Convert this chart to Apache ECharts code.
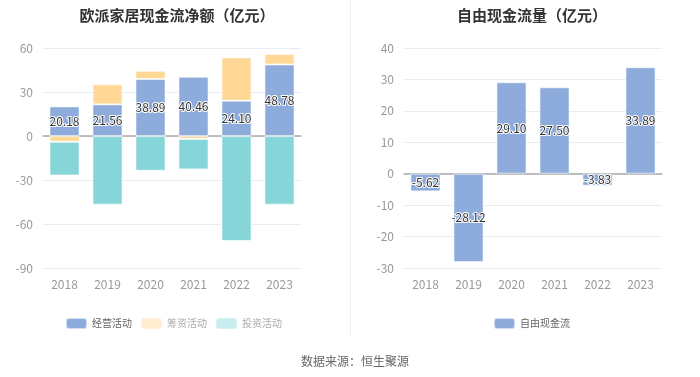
<!DOCTYPE html>
<html>
<head>
<meta charset="utf-8">
<script src="https://cdn.jsdelivr.net/npm/echarts@6/dist/echarts.min.js"></script>
<style>
    html, body { margin: 0; padding: 0; background: #fff; }
    #main { width: 700px; height: 377px; }
</style>
</head>
<body>
<div id="main"></div>
<script>
    var years = ['2018', '2019', '2020', '2021', '2022', '2023'];
    // 现金流净额（亿元）
    var operating = [20.18, 21.56, 38.89, 40.46, 24.10, 48.78];
    var financing = [-3.9, 13.7, 5.6, -2.0, 29.5, 7.1];
    var investing = [-23.0, -46.8, -23.7, -20.8, -71.6, -46.8];
    // 自由现金流量（亿元）
    var freeCash = [-5.62, -28.12, 29.10, 27.50, -3.83, 33.89];

    var blue = '#8DABDB', yellow = '#FFD896', cyan = '#86D6D9';
    var font = '"Noto Sans CJK SC", "Noto Sans", sans-serif';

    var chart = echarts.init(document.getElementById('main'));

    var valueLabel = {
        show: true,
        position: 'inside',
        fontSize: 12,
        fontFamily: font,
        color: '#333',
        textBorderColor: '#fff',
        textBorderWidth: 2,
        formatter: function (p) {
            return p.value.toFixed(2);
        }
    };

    var xAxisBase = function (idx) {
        return {
            type: 'category',
            gridIndex: idx,
            data: years,
            axisLine: {onZero: true, lineStyle: {color: '#aaa', width: 1.5}},
            axisTick: {alignWithLabel: true, lineStyle: {color: '#aaa'}},
            axisLabel: {color: '#999', fontSize: 12, fontFamily: font, margin: 10},
            position: 'bottom'
        };
    };
    var yAxisBase = function (idx, min, max, step) {
        return {
            type: 'value',
            gridIndex: idx,
            min: min,
            max: max,
            interval: step,
            axisLine: {show: false},
            axisTick: {show: false},
            axisLabel: {color: '#999', fontSize: 12, fontFamily: font, margin: 10},
            splitLine: {lineStyle: {color: '#E8ECF4'}}
        };
    };

    var option = {
        animation: false,
        textStyle: {fontFamily: font},
        title: [{
            text: '欧派家居现金流净额（亿元）',
            left: 172, top: 3, textAlign: 'center',
            textStyle: {fontSize: 15, fontWeight: 'bold', color: '#333', fontFamily: font}
        }, {
            text: '自由现金流量（亿元）',
            left: 527, top: 3, textAlign: 'center',
            textStyle: {fontSize: 15, fontWeight: 'bold', color: '#333', fontFamily: font}
        }, {
            text: '数据来源：恒生聚源',
            left: 350, top: 350, textAlign: 'center',
            textStyle: {fontSize: 12, fontWeight: 'normal', color: '#666', fontFamily: font}
        }],
        legend: [{
            left: 60, top: 312,
            itemWidth: 21, itemHeight: 11, itemGap: 8,
            textStyle: {fontSize: 10, color: '#666', fontFamily: font},
            data: [
                {name: '经营活动'},
                {name: '筹资活动', itemStyle: {opacity: 0.45}, textStyle: {color: '#aaa'}},
                {name: '投资活动', itemStyle: {opacity: 0.45}, textStyle: {color: '#aaa'}}
            ]
        }, {
            left: 488, top: 312,
            itemWidth: 21, itemHeight: 11,
            textStyle: {fontSize: 10, color: '#666', fontFamily: font},
            data: ['自由现金流']
        }],
        graphic: [{
            type: 'line',
            shape: {x1: 350.5, y1: 0, x2: 350.5, y2: 335},
            style: {stroke: '#eee', lineWidth: 1}
        }],
        grid: [
            {left: 43, top: 48, width: 258, height: 220},
            {left: 404, top: 48, width: 258, height: 220}
        ],
        xAxis: [xAxisBase(0), xAxisBase(1)],
        yAxis: [yAxisBase(0, -90, 60, 30), yAxisBase(1, -30, 40, 10)],
        series: [{
            name: '经营活动',
            type: 'bar',
            stack: 'cash',
            xAxisIndex: 0, yAxisIndex: 0,
            barWidth: '70%',
            itemStyle: {color: blue, borderColor: 'rgba(255,255,255,0.6)', borderWidth: 1},
            label: valueLabel,
            z: 3,
            data: operating
        }, {
            name: '筹资活动',
            type: 'bar',
            stack: 'cash',
            xAxisIndex: 0, yAxisIndex: 0,
            barWidth: '70%',
            itemStyle: {color: yellow, borderColor: 'rgba(255,255,255,0.6)', borderWidth: 1},
            data: financing
        }, {
            name: '投资活动',
            type: 'bar',
            stack: 'cash',
            xAxisIndex: 0, yAxisIndex: 0,
            barWidth: '70%',
            itemStyle: {color: cyan, borderColor: 'rgba(255,255,255,0.6)', borderWidth: 1},
            data: investing
        }, {
            name: '自由现金流',
            type: 'bar',
            xAxisIndex: 1, yAxisIndex: 1,
            barWidth: '70%',
            itemStyle: {color: blue, borderColor: 'rgba(255,255,255,0.6)', borderWidth: 1},
            label: valueLabel,
            data: freeCash
        }]
    };

    chart.setOption(option);
</script>
</body>
</html>
